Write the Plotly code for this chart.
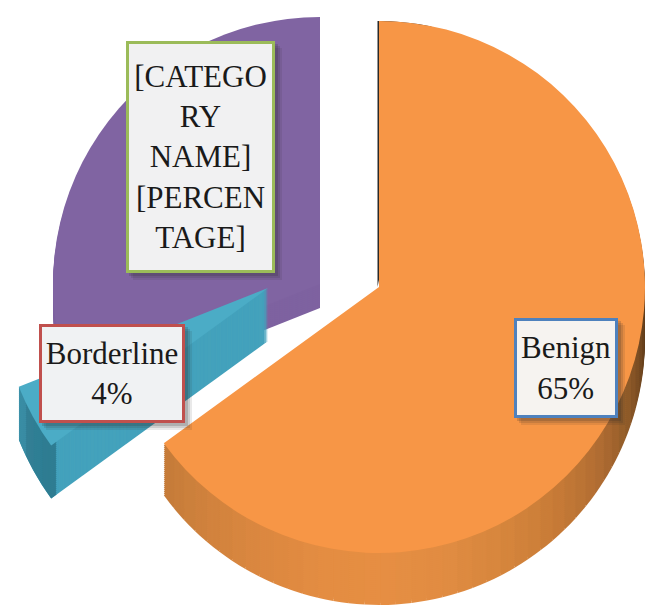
import plotly.graph_objects as go

categories = ["Benign", "Borderline", "Malignant"]
values = [65, 4, 31]
colors = ["#F79646", "#4BACC6", "#8064A2"]
clear = "rgba(0,0,0,0)"

# side-wall shade stops (clockwise from 12 o'clock across each slice)
orange_stops = ["#3A2712", "#3A2712", "#3A2712", "#3A2712", "#3A2712", "#3A2712", "#4A3118", "#6A431F",
                "#8F5B2A", "#B06D33", "#C67A37", "#D5853C", "#E08C42", "#E68E43", "#E48D42", "#DC8840",
                "#D2833E", "#C67C3A"]
blue_stops = ["#2F7D92", "#2F7F94", "#337F95", "#3A8DA4"]
blue_front = "#44A2BC"
purple_side = "#7E62A0"
edge_line = "#2A2A2A"

W, H = 648, 609


def smooth(stops, per):
    out = []
    for a, b in zip(stops, stops[1:]):
        ca = [int(a[i:i + 2], 16) for i in (1, 3, 5)]
        cb = [int(b[i:i + 2], 16) for i in (1, 3, 5)]
        for t in range(per):
            f = t / per
            out.append("#%02X%02X%02X" % tuple(round(x + (y - x) * f) for x, y in zip(ca, cb)))
    out.append(stops[-1])
    return out


def dom(cx, cy, r):
    return dict(x=[(cx - r) / W, (cx + r) / W], y=[1 - (cy + r) / H, 1 - (cy - r) / H])


def slice_pie(index, color, cx, cy, r, hole=0):
    cols = [clear] * 3
    cols[index] = color
    return go.Pie(labels=categories, values=values, sort=False, direction="clockwise", rotation=0,
                  domain=dom(cx, cy, r), marker=dict(colors=cols, line=dict(width=0)),
                  textinfo="none", hoverinfo="skip", showlegend=False, hole=hole)


def side_pie(index, shades, cx, cy, r, hole=0):
    before = sum(values[:index])
    after = sum(values[index + 1:])
    part = values[index] / len(shades)
    vals = ([before] if before else []) + [part] * len(shades) + ([after] if after else [])
    cols = ([clear] if before else []) + list(shades) + ([clear] if after else [])
    labs = [f"s{i}" for i in range(len(vals))]
    return go.Pie(labels=labs, values=vals, sort=False, direction="clockwise", rotation=0,
                  domain=dom(cx, cy, r), marker=dict(colors=cols, line=dict(width=0)),
                  textinfo="none", hoverinfo="skip", showlegend=False, hole=hole)


fig = go.Figure()

# Malignant
for k in range(24, 0, -2):
    fig.add_trace(slice_pie(2, purple_side, 320, 284 + k, 267))
fig.add_trace(slice_pie(2, colors[2], 320, 284, 267))

# Borderline
for k in range(53, 0, -1):
    fig.add_trace(slice_pie(1, blue_front, 268, 288 + k, 268))
for k in range(53, 0, -2):
    fig.add_trace(side_pie(1, blue_stops, 268, 288 + k, 268, hole=0.975))
fig.add_trace(slice_pie(1, colors[1], 268, 288, 268))

# Benign
orange_side = smooth(orange_stops, 4)
for k in range(52, 0, -2):
    fig.add_trace(side_pie(0, orange_side, 379, 287 + k, 266))
fig.add_trace(side_pie(0, [edge_line] + [clear] * 19, 377.5, 287, 266))
fig.add_trace(slice_pie(0, colors[0], 379, 287, 266))


def label(text, x0, y0, x1, y1, border, fill):
    bw = 3
    for off, a in ((7, 0.10), (5, 0.14), (3, 0.18)):
        fig.add_shape(type="rect", xref="paper", yref="paper", layer="above",
                      x0=(x0 + off) / W, x1=(x1 + off) / W,
                      y0=1 - (y1 + off) / H, y1=1 - (y0 + off) / H,
                      fillcolor=f"rgba(40,40,40,{a})", line=dict(width=0))
    fig.add_annotation(text=text, xref="paper", yref="paper",
                       x=(x0 + x1) / 2 / W, y=1 - (y0 + y1) / 2 / H,
                       xanchor="center", yanchor="middle", showarrow=False,
                       width=x1 - x0 - 2 * bw, height=y1 - y0 - 2 * bw, align="center", valign="middle",
                       bgcolor=fill, bordercolor=border, borderwidth=bw, borderpad=0,
                       font=dict(family="Liberation Serif", size=31, color="#1A1A1A"))


label("[CATEGO<br>RY<br>NAME]<br>[PERCEN<br>TAGE]", 126, 41, 275, 273, "#9BBB59", "#F1F1F2")
label("Borderline<br>4%", 39, 324, 185, 423, "#C0504D", "#F0F2F3")
label("Benign<br>65%", 514, 318, 618, 418, "#4F81BD", "#F6F3F0")

fig.update_layout(width=W, height=H, margin=dict(l=0, r=0, t=0, b=0), autosize=False,
                  paper_bgcolor="white", plot_bgcolor="white", showlegend=False)
fig.write_html("out.html", config=dict(displayModeBar=False),
               post_script="document.body.style.margin='0';document.documentElement.style.overflow='hidden';")
